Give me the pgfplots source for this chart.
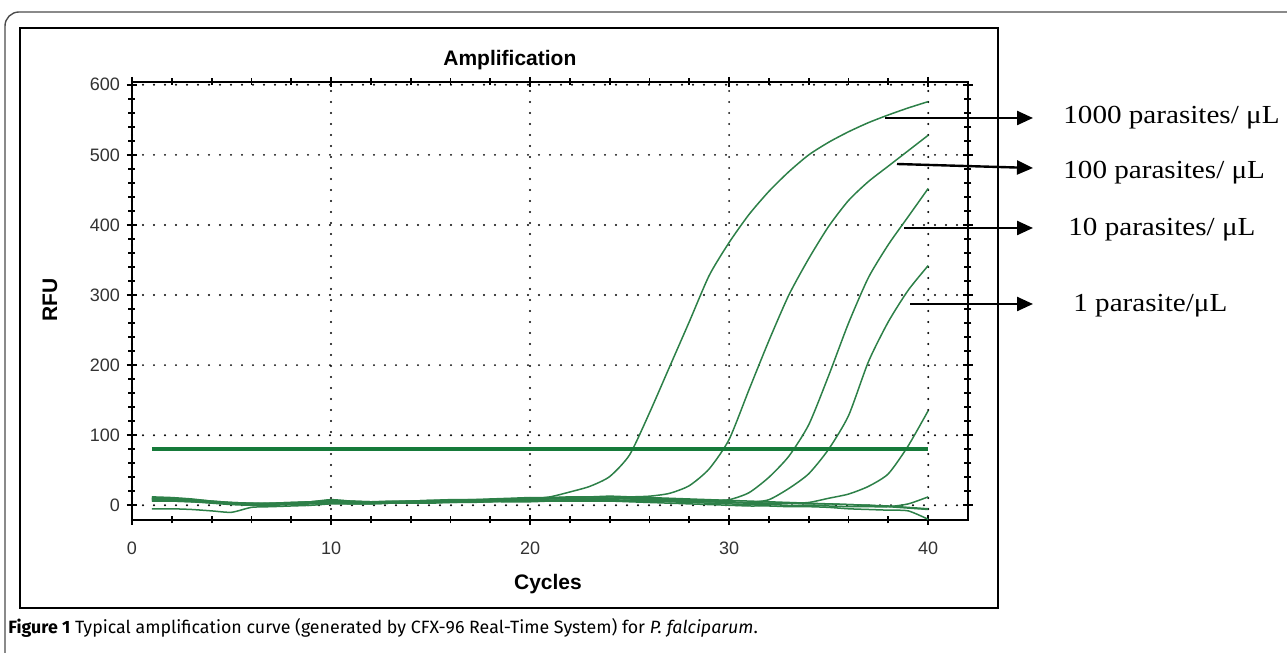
\documentclass[border=0pt]{standalone}
\usepackage{fontspec}
\setmainfont{Liberation Sans}
\newfontfamily\seriffont{Liberation Serif}
\newfontfamily\capfont{Fira Sans}
\usepackage{pgfplots}
\usepackage{pgfplotstable}
\pgfplotsset{compat=1.18}
\usetikzlibrary{arrows.meta}

\definecolor{curve}{RGB}{45,128,72}
\definecolor{thresh}{RGB}{22,122,58}
\definecolor{ticktxt}{RGB}{50,50,50}

% RFU per cycle for each well
\pgfplotstableread{
x  a    b    c    d    e    f    g    h    i
1  11   9    10   8    7    6    -5   9    12
2  10   8    9    7    6    6    -5   8    11
3  8    7    7    6    5    5    -6   7    9
4  6    5    5    4    4    3    -8   5    6
5  4    3    3    2    3    1    -10  3    4
6  3    2    2    1    2    0    -3   1    3
7  3    2    3    2    2    0    -2   2    2
8  4    3    4    3    2    1    -1   3    3
9  5    4    5    4    3    2    0    4    5
10 7    6    6    5    4    3    2    6    8
11 6    5    5    4    4    2    2    5    6
12 5    4    5    4    3    2    2    4    5
13 5    4    6    5    4    3    3    5    5
14 6    5    6    5    4    3    3    5    6
15 6    6    7    6    5    4    3    6    7
16 7    6    7    6    5    4    4    7    8
17 7    7    8    6    6    5    4    7    8
18 8    8    8    7    6    5    5    8    9
19 9    8    9    7    6    6    5    8    10
20 9    9    10   8    7    6    5    9    11
21 12   10   11   9    7    7    6    9    11
22 19   11   11   9    8    7    6    10   12
23 27   12   12   10   8    7    6    10   12
24 41   12   12   10   8    7    6    10   13
25 72   12   11   9    7    6    5    9    12
26 132  13   10   8    7    6    4    9    11
27 197  17   9    7    6    5    3    8    10
28 262  28   8    6    5    4    2    7    9
29 328  52   7    5    5    3    1    6    8
30 375  94   8    4    4    2    0    5    7
31 415  165  18   4    3    1    -1   4    6
32 448  235  40   8    3    1    -1   3    5
33 476  300  70   24   3    0    -2   3    4
34 500  352  115  45   4    0    -2   2    3
35 518  398  185  80   10   -1   -3   2    2
36 533  435  260  128  16   -2   -5   1    1
37 546  462  325  205  27   -2   -6   0    0
38 557  484  372  262  45   -2   -7   -2   -1
39 567  506  412  307  85   2    -8   -4   -3
40 576  528  452  342  135  12   -20  -6   -5
}\wells

\begin{document}
\begin{tikzpicture}[x=1pt,y=1pt]
% whole picture, 0.5pt per pixel, origin at the lower left corner of the axis
\clip (-66,-66.5) rectangle (577.5,260);
\draw[gray!60!black, line width=0.7pt, rounded corners=7pt] (-63.5,-90) rectangle (620,254);
\draw[black, line width=1.1pt] (-56,-44) rectangle (433,246);

\begin{axis}[
    at={(0,0)}, anchor=south west,
    scale only axis, width=418pt, height=219pt,
    xmin=0, xmax=42, ymin=-21, ymax=604,
    xtick={0,10,20,30,40},
    ytick={0,100,200,300,400,500,600},
    minor x tick num=4, minor y tick num=4,
    tick align=center,
    major tick length=5pt, minor tick length=3.5pt,
    tick style={black, line width=0.9pt},
    axis line style={line width=1.2pt},
    grid=major,
    grid style={black, line width=1.1pt, dash pattern=on 0pt off 5.5pt, line cap=round},
    ticklabel style={font=\fontsize{9}{10}\selectfont, text=ticktxt},
    /pgf/number format/assume math mode=true,
    xticklabel style={yshift=-5pt},
    title={\bfseries Amplification},
    title style={font=\fontsize{10.5}{12}\selectfont, at={(axis description cs:0.452,1.023)}, anchor=center},
    xlabel={\bfseries Cycles},
    xlabel style={font=\fontsize{10.5}{12}\selectfont, at={(axis description cs:0.4976,-0.147)}, anchor=center},
    ylabel={\bfseries RFU},
    ylabel style={font=\fontsize{10.5}{12}\selectfont, at={(axis description cs:-0.098,0.502)}, anchor=center},
    well/.style={curve, solid, line width=0.75pt, mark=none, smooth, tension=0.4},
]
\addplot[well] table[x=x, y=i] {\wells};
\addplot[well] table[x=x, y=h] {\wells};
\addplot[well] table[x=x, y=g] {\wells};
\addplot[well] table[x=x, y=f] {\wells};
\addplot[well] table[x=x, y=e] {\wells};
\addplot[well] table[x=x, y=d] {\wells};
\addplot[well] table[x=x, y=c] {\wells};
\addplot[well] table[x=x, y=b] {\wells};
\addplot[well] table[x=x, y=a] {\wells};
\addplot[thresh, line width=2pt, mark=none] coordinates {(1,80) (40,80)};
\end{axis}

% dilution labels with arrows
\begin{scope}[line width=1.2pt, -{Triangle[length=8pt,width=7pt]}]
\draw (376.5,201) -- (450.5,201);
\draw (382.5,178) -- (450.5,176);
\draw (386,146) -- (450.5,146);
\draw (389,108) -- (450.5,108);
\end{scope}
\begin{scope}[every node/.style={anchor=west, inner sep=0pt, font=\seriffont\fontsize{13}{15}\selectfont}]
\node at (465.5,201) {\scalebox{1.12}[1]{1000 parasites/ μL}};
\node at (465.5,173.5) {\scalebox{1.12}[1]{100 parasites/ μL}};
\node at (468,145) {\scalebox{1.12}[1]{10 parasites/ μL}};
\node at (470.5,107) {\scalebox{1.12}[1]{1 parasite/μL}};
\end{scope}

\node[anchor=west, inner sep=0pt, font=\capfont\fontsize{8.9}{10}\selectfont] at (-62,-54)
  {\textbf{Figure 1} Typical amplification curve (generated by CFX-96 Real-Time System) for \textit{P. falciparum}.};
\end{tikzpicture}
\end{document}
